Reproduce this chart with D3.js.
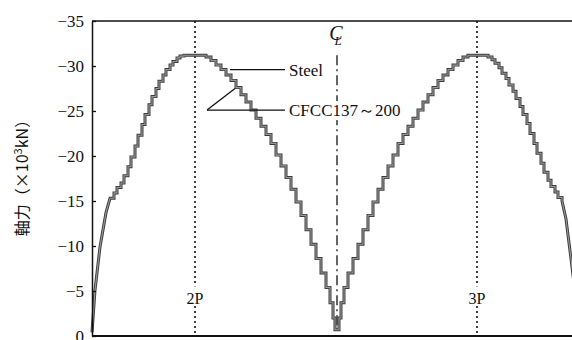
<!DOCTYPE html>
<html>
<head>
<meta charset="utf-8">
<script src="https://cdn.jsdelivr.net/npm/d3@7"></script>
<style>
  body { margin: 0; background: #fff; }
  svg text { font-family: "Liberation Serif", "DejaVu Serif", "Noto Serif", serif; fill: #111; }
</style>
</head>
<body>
<script>
// axial force along the girder, position measured from the centre line (CL)
var rampLeftX = [-245, -242, -237, -231, -227];
var rampLeftN = [-0.4, -5.1, -9.9, -13.7, -15.3];

var stepStart = [
  -227, -223, -220, -216, -213, -209, -206, -202, -199, -195, -192, -188, -185, -181, -178, -174, -171, -167, -164, -160, -157, -153,
  -131, -126, -121, -116, -111, -106, -101, -96, -91, -86, -81, -76, -71, -66, -61, -56, -51, -46, -41, -36, -31, -26, -21, -16, -11, -7, -4, -2,
  2, 4, 7, 11, 16, 21, 26, 31, 36, 41, 46, 51, 56, 61, 66, 71, 76, 81, 86, 91, 96, 101, 106, 111, 116, 121, 126, 131,
  151, 155, 158, 162, 165, 169, 172, 176, 179, 183, 186, 190, 193, 197, 200, 204, 207, 211, 214, 218, 221
];
var stepEnd = 225;
var steelN = [
  -15.3, -15.9, -16.5, -17.0, -17.8, -18.8, -19.9, -21.1, -22.3, -23.5, -24.6, -25.7, -26.6, -27.5, -28.3, -29.0, -29.6, -30.1, -30.5, -30.9, -31.1, -31.2,
  -31.0, -30.6, -30.1, -29.6, -29.0, -28.4, -27.6, -26.8, -26.0, -25.1, -24.2, -23.3, -22.4, -21.4, -20.1, -18.9, -17.6, -16.3, -14.9, -13.4, -11.8, -10.2, -8.6, -7.0, -5.4, -3.7, -2.0, -0.7,
  -2.0, -3.7, -5.4, -7.0, -8.6, -10.2, -11.8, -13.4, -14.9, -16.3, -17.6, -18.9, -20.1, -21.4, -22.4, -23.3, -24.2, -25.1, -26.0, -26.8, -27.6, -28.4, -29.0, -29.6, -30.1, -30.6, -31.0, -31.2,
  -31.0, -30.7, -30.3, -29.8, -29.2, -28.6, -27.9, -27.2, -26.4, -25.5, -24.6, -23.6, -22.5, -21.4, -20.3, -19.2, -18.2, -17.3, -16.6, -16.0, -15.4
];
// the CFCC curve lies on top of the steel one in the figure
var cfccN = steelN;

var rampRightX = [225, 229, 235, 240, 244];
var rampRightN = [-15.0, -13.0, -7.7, -3.0, -0.4];

var yTicks = [0, -5, -10, -15, -20, -25, -30, -35];
var piers = [{name: "2P", pos: -142}, {name: "3P", pos: 140}];

var serif = "'Liberation Serif', 'DejaVu Serif', 'Noto Serif', serif";
var width = 572, height = 340;
var margin = {top: 21, left: 92, bottom: 4, right: -10};

var svg = d3.select("body").append("svg")
    .attr("width", width)
    .attr("height", height);

var x = d3.scaleLinear().domain([-245, 245]).range([margin.left, width - margin.right]);
var y = d3.scaleLinear().domain([0, -35]).range([height - margin.bottom, margin.top]);

function buildPoints(vals) {
  var pts = [];
  for (var i = 0; i < rampLeftX.length; i++) pts.push([rampLeftX[i], rampLeftN[i]]);
  for (var j = 0; j < stepStart.length; j++) {
    var end = j < stepStart.length - 1 ? stepStart[j + 1] : stepEnd;
    pts.push([stepStart[j], vals[j]]);
    pts.push([end, vals[j]]);
  }
  for (var k = 0; k < rampRightX.length; k++) pts.push([rampRightX[k], rampRightN[k]]);
  return pts;
}

// pier lines (dotted)
piers.forEach(function(p) {
  svg.append("line")
    .attr("x1", x(p.pos)).attr("x2", x(p.pos))
    .attr("y1", y(-35)).attr("y2", y(0))
    .attr("stroke", "#111").attr("stroke-width", 1.6)
    .attr("stroke-dasharray", "2,3");
});

// centre line (dash-dot) and its symbol
svg.append("line")
  .attr("x1", x(0)).attr("x2", x(0))
  .attr("y1", y(-31.2)).attr("y2", y(-0.6))
  .attr("stroke", "#111").attr("stroke-width", 1.3)
  .attr("stroke-dasharray", "10,4,2,4");
svg.append("text").attr("x", x(0) - 1).attr("y", y(-32.9))
  .attr("text-anchor", "middle").attr("font-family", serif)
  .style("font-style", "italic").style("font-size", "20px").text("C");
svg.append("text").attr("x", x(0) + 1).attr("y", y(-32.3))
  .attr("text-anchor", "middle").attr("font-family", serif)
  .style("font-style", "italic").style("font-size", "13px").text("L");

// pier labels with white background
piers.forEach(function(p) {
  svg.append("rect")
    .attr("x", x(p.pos) - 12).attr("y", y(-5.4) - 1)
    .attr("width", 24).attr("height", 18).attr("fill", "#fff");
  svg.append("text")
    .attr("x", x(p.pos)).attr("y", y(-3.6))
    .attr("text-anchor", "middle").attr("font-family", serif)
    .style("font-size", "16px")
    .text(p.name);
});

var line = d3.line()
  .x(function(d) { return x(d[0]); })
  .y(function(d) { return y(d[1]); });

svg.append("path")
  .datum(buildPoints(steelN))
  .attr("fill", "none").attr("stroke", "#3c3c3c").attr("stroke-width", 3)
  .attr("d", line);
svg.append("path")
  .datum(buildPoints(cfccN))
  .attr("fill", "none").attr("stroke", "#9a9a9a").attr("stroke-width", 1.1)
  .attr("d", line);

// leaders and legend text
var lead = svg.append("g").attr("stroke", "#111").attr("stroke-width", 1.3);
lead.append("line").attr("x1", x(-107)).attr("y1", y(-29.6)).attr("x2", x(-52)).attr("y2", y(-29.6));
lead.append("line").attr("x1", x(-130)).attr("y1", y(-25.1)).attr("x2", x(-52)).attr("y2", y(-25.1));
lead.append("line").attr("x1", x(-130)).attr("y1", y(-25.1)).attr("x2", x(-102)).attr("y2", y(-27.5));

svg.append("text").attr("x", x(-48)).attr("y", y(-29.6) + 6)
  .attr("font-family", serif).style("font-size", "17px").text("Steel");
var cfccLabel = svg.append("text").attr("x", x(-48)).attr("y", y(-25.1) + 6)
  .attr("font-family", serif).style("font-size", "17px").text("CFCC137～200");
var bb = cfccLabel.node().getBBox();
svg.insert("rect", function() { return cfccLabel.node(); })
  .attr("x", bb.x - 1).attr("y", bb.y).attr("width", bb.width + 2).attr("height", bb.height)
  .attr("fill", "#fff");

// axes
var yAxis = d3.axisLeft(y)
  .tickValues(yTicks)
  .tickSizeInner(-4)
  .tickSizeOuter(0)
  .tickPadding(8)
  .tickFormat(function(d) { return d === 0 ? "0" : "\u2212" + Math.abs(d); });

var gy = svg.append("g")
  .attr("transform", "translate(" + margin.left + ",0)")
  .call(yAxis)
  .attr("font-family", serif)
  .attr("font-size", 17);
gy.select(".domain").attr("stroke", "#111").attr("stroke-width", 1.5);
gy.selectAll(".tick line").attr("stroke", "#111").attr("stroke-width", 1.3);
gy.selectAll(".tick text").attr("fill", "#111");

// frame
svg.append("line").attr("x1", x(-245)).attr("x2", x(245)).attr("y1", y(-35)).attr("y2", y(-35))
  .attr("stroke", "#111").attr("stroke-width", 1.5);
svg.append("line").attr("x1", x(-245)).attr("x2", x(245)).attr("y1", y(0)).attr("y2", y(0))
  .attr("stroke", "#111").attr("stroke-width", 1.8);

// y label
var yl = svg.append("text")
  .attr("transform", "translate(28,174) rotate(-90)")
  .attr("text-anchor", "middle")
  .style("font-family", "'Noto Sans CJK JP', sans-serif")
  .style("font-size", "16px");
yl.append("tspan").text("軸力（×10");
yl.append("tspan").attr("dy", -6).style("font-size", "11px").text("3");
yl.append("tspan").attr("dy", 6).text("kN）");
</script>
</body>
</html>
